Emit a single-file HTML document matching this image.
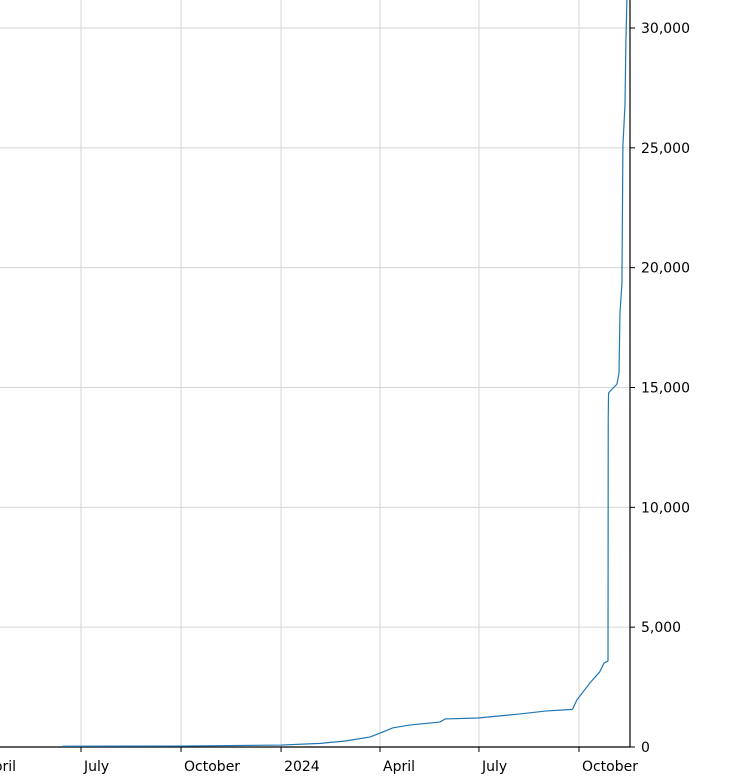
<!DOCTYPE html>
<html><head><meta charset="utf-8"><style>
body{margin:0;background:#fff;}
svg{display:block;font-family:"DejaVu Sans","Liberation Sans",sans-serif;}
</style></head><body>
<svg id="chart" width="740" height="780" viewBox="0 0 740 780">
<defs><clipPath id="clip"><rect x="0" y="0" width="630" height="747"/></clipPath></defs>
<g id="grid"></g>
<g id="axes"></g>
<g clip-path="url(#clip)"><path id="line" fill="none" stroke="#1f77b4" stroke-width="1.2"/></g>
</svg>
<script>
// days since 2023-07-01
const days = [-17,91,184,220,243,266,275,287,303,330,335,365,404,427,452,456,468,477,481,484.7,484.9,485.2,485.6,492.9,494.8,495.7,497.5,498.4,500.3,501.2,503];
const values = [30,40,80,150,250,420,580,800,920,1040,1170,1210,1380,1500,1570,1960,2670,3130,3500,3590,13630,14760,14800,15140,15600,18100,19350,25100,26770,29500,33000];
const xTickDays = [0,92,184,275,366,458];
const xTickLabels = ["July","October","2024","April","July","October"];
const yTicks = [0,5000,10000,15000,20000,25000,30000];
const yTickLabels = ["0","5,000","10,000","15,000","20,000","25,000","30,000"];

const X = d => 81 + d*1.0873;
const Y = v => 747 - v*719/30000;
const NS = "http://www.w3.org/2000/svg";
const grid = document.getElementById('grid'), axes = document.getElementById('axes');
function mk(tag, attrs, parent){const e=document.createElementNS(NS,tag);for(const k in attrs)e.setAttribute(k,attrs[k]);parent.appendChild(e);return e;}

xTickDays.forEach((d,i)=>{
  const x=X(d);
  const g=mk('line',{x1:x,x2:x,y1:0,y2:747,stroke:'#d6d6d6','stroke-width':1},grid);
  
  
  const t=mk('line',{x1:x,x2:x,y1:747,y2:752,stroke:'#000','stroke-width':1},axes);
  
  
  const l=mk('text',{x:x+3,y:771,'font-size':14,fill:'#000'},axes);
  l.textContent=xTickLabels[i];
  
  
});
const lbl0=mk('text',{x:-16,y:771,'font-size':14,fill:'#000'},axes);
lbl0.textContent="April";



yTicks.forEach((v,i)=>{
  const y=Y(v);
  if(v>0){const g=mk('line',{x1:0,x2:630,y1:y,y2:y,stroke:'#d6d6d6','stroke-width':1},grid);
  
  }
  const t=mk('line',{x1:630,x2:635,y1:y,y2:y,stroke:'#000','stroke-width':1},axes);
  
  
  const l=mk('text',{x:641,y:y+5,'font-size':14,fill:'#000'},axes);
  l.textContent=yTickLabels[i];
  
  
});
const sp1=mk('line',{x1:630,x2:630,y1:0,y2:747.5,stroke:'#000','stroke-width':1.2},axes);


const sp2=mk('line',{x1:0,x2:630,y1:747,y2:747,stroke:'#000','stroke-width':1.2},axes);



document.getElementById('line').setAttribute('d', days.map((d,i)=>(i?'L':'M')+X(d).toFixed(2)+','+Y(values[i]).toFixed(2)).join(''));
</script>
</body></html>
